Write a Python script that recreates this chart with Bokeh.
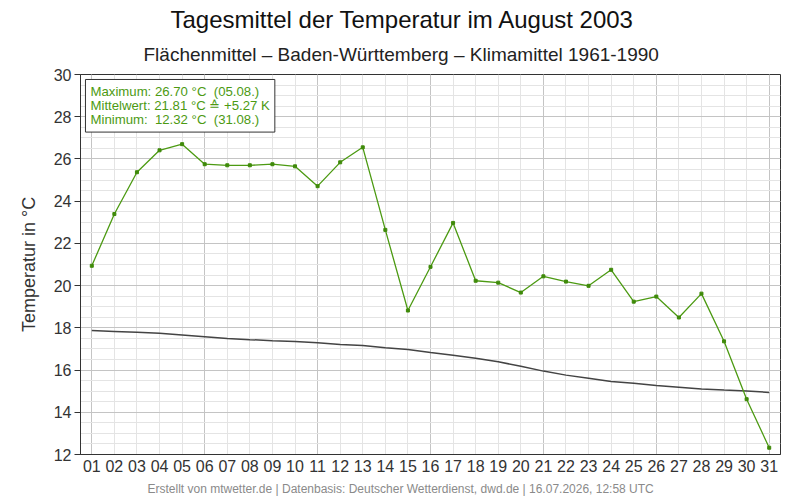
from bokeh.plotting import figure
from bokeh.models import FixedTicker, SingleIntervalTicker, Range1d, Title, Label, ColumnDataSource
from bokeh.embed import file_html
from bokeh.resources import INLINE

days = list(range(1, 32))
day_labels = [f"{d:02d}" for d in days]

temp_2003 = [20.94, 23.39, 25.37, 26.41, 26.70, 25.75, 25.70, 25.70, 25.75, 25.65,
             24.71, 25.84, 26.55, 22.64, 18.82, 20.89, 22.97, 20.23, 20.14, 19.67,
             20.44, 20.19, 19.99, 20.75, 19.24, 19.48, 18.49, 19.62, 17.36, 14.62, 12.32]

clim_1961_1990 = [17.87, 17.83, 17.79, 17.74, 17.66, 17.58, 17.50, 17.44, 17.39, 17.35,
                  17.29, 17.21, 17.16, 17.06, 16.97, 16.83, 16.70, 16.56, 16.39, 16.18,
                  15.95, 15.76, 15.61, 15.46, 15.37, 15.27, 15.19, 15.10, 15.05, 15.01, 14.94]

major_days = [1, 6, 11, 16, 21, 26, 31]

title_text = "Tagesmittel der Temperatur im August 2003"
subtitle_text = "Flächenmittel – Baden-Württemberg – Klimamittel 1961-1990"
footer_text = "Erstellt von mtwetter.de | Datenbasis: Deutscher Wetterdienst, dwd.de | 16.07.2026, 12:58 UTC"
y_label = "Temperatur in °C"
NB = "\u00a0"
stats_lines = [
    "Maximum:" + NB + "26.70" + NB + "°C" + NB + NB + "(05.08.)",
    "Mittelwert:" + NB + "21.81" + NB + "°C" + NB + "≙" + NB + "+5.27" + NB + "K",
    "Minimum:" + NB + NB + "12.32" + NB + "°C" + NB + NB + "(31.08.)",
]
stats_text = "\n".join(stats_lines)

FONT = "Liberation Sans"
GREEN = "#4c9a12"

p = figure(width=800, height=500, output_backend="svg", toolbar_location=None,
           x_range=Range1d(0.5, 31.5), y_range=Range1d(12, 30),
           min_border_left=80, min_border_right=20, min_border_top=74, min_border_bottom=44,
           background_fill_color="white", border_fill_color="white",
           outline_line_color="#333333", outline_line_width=1)

p.title.text = title_text
p.title.align = "left"
p.title.offset = 90
p.title.text_font = FONT
p.title.text_font_size = "24px"
p.title.text_font_style = "normal"
p.title.text_color = "#111111"
p.title.standoff = 0

p.add_layout(Title(text=subtitle_text, align="left", offset=63, text_font=FONT, text_font_size="19px",
                   text_font_style="normal", text_color="#222222", standoff=19), "above")

src = ColumnDataSource(dict(day=days, t=temp_2003, c=clim_1961_1990))

p.line("day", "c", source=src, line_color="#444444", line_width=1.5)
p.line("day", "t", source=src, line_color=GREEN, line_width=1.3)
p.scatter("day", "t", source=src, marker="square", size=3, fill_color="#3f8a0a", line_color="#3f8a0a")

# axes
p.xaxis.ticker = FixedTicker(ticks=days)
p.xaxis.major_label_overrides = {d: lab for d, lab in zip(days, day_labels)}
p.xaxis.major_tick_out = 0
p.xaxis.major_tick_in = 0
p.xaxis.minor_tick_out = 0
p.xaxis.minor_tick_in = 0
p.xaxis.major_label_standoff = 5
p.xaxis.axis_line_color = "#333333"

p.yaxis.ticker = SingleIntervalTicker(interval=2, num_minor_ticks=4)
p.yaxis.major_tick_out = 6
p.yaxis.major_tick_in = 0
p.yaxis.minor_tick_out = 0
p.yaxis.minor_tick_in = 0
p.yaxis.major_tick_line_color = "#333333"
p.yaxis.major_label_standoff = 3
p.yaxis.axis_line_color = "#333333"
p.yaxis.axis_label = y_label
p.yaxis.axis_label_standoff = 12

for ax in (p.xaxis, p.yaxis):
    ax.major_label_text_font = FONT
    ax.major_label_text_font_size = "16px"
    ax.major_label_text_color = "#333333"
    ax.axis_label_text_font = FONT
    ax.axis_label_text_font_size = "18px"
    ax.axis_label_text_font_style = "normal"
    ax.axis_label_text_color = "#333333"

# grids
p.xgrid.ticker = FixedTicker(ticks=major_days, minor_ticks=days)
p.xgrid.grid_line_color = "#c4c4c4"
p.xgrid.minor_grid_line_color = "#e4e4e4"
p.ygrid.grid_line_color = "#c4c4c4"
p.ygrid.minor_grid_line_color = "#e4e4e4"
p.xgrid.level = "underlay"
p.ygrid.level = "underlay"

# stats box
p.add_layout(Label(x=0.72, y=29.764, text=stats_text, text_align="left", text_baseline="top",
                   text_font=FONT, text_font_size="13.2px", text_color=GREEN, text_line_height=0.92,
                   padding=5, background_fill_color="white", border_line_color="#333333",
                   border_line_width=1))

p.add_layout(Title(text=footer_text, align="left", offset=67, text_font=FONT, text_font_size="12px",
                   text_font_style="normal", text_color="#8a8a8a"), "below")

open("out.html", "w").write(file_html(p, INLINE))
